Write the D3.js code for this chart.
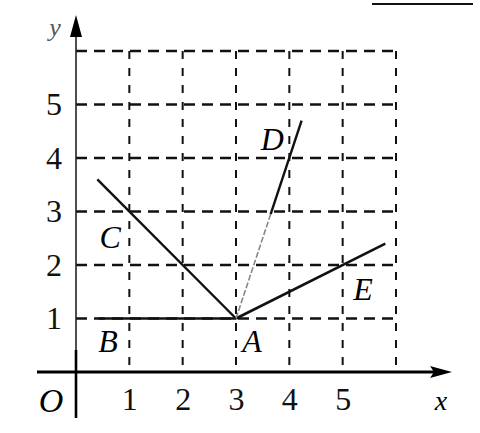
<!DOCTYPE html>
<html>
<head>
<meta charset="utf-8">
<script src="https://cdn.jsdelivr.net/npm/d3@7"></script>
<style>
  body { margin: 0; background: #fff; }
  svg { display: block; }
</style>
</head>
<body>
<svg id="chart" width="480" height="433"></svg>
<script>

// ===========================//
// DATA
// ===========================//

var xTicks = [1, 2, 3, 4, 5]
var yTicks = [1, 2, 3, 4, 5]
var gridX = [1, 2, 3, 4, 5, 6]
var gridY = [1, 2, 3, 4, 5, 6]

// segments leaving A
var lineAB = [[0.42, 1], [3, 1]]
var lineAC = [[0.4, 3.6], [3, 1]]
var lineAD = [[3, 1], [3.65, 2.95], [4.23, 4.7]]
var lineAE = [[3, 1], [5.8, 2.4]]

// point names
var pointNames = ["A", "B", "C", "D", "E"]
var pointLabelPos = [[3.3, 0.37], [0.6, 0.37], [0.64, 2.32], [3.68, 4.15], [5.38, 1.35]]


// ===========================//
// SCALES
// ===========================//

var svg = d3.select("#chart")
var serif = "'Liberation Serif', 'DejaVu Serif', serif"

var x = d3.scaleLinear().domain([0, 6]).range([76, 396])
var y = d3.scaleLinear().domain([0, 6]).range([372, 51])

var line = d3.line()
  .x(function(d){ return x(d[0]) })
  .y(function(d){ return y(d[1]) })


// ===========================//
// GRID
// ===========================//

svg.append("g").selectAll("line")
  .data(gridY)
  .enter()
  .append("line")
    .attr("x1", x(0))
    .attr("x2", x(6))
    .attr("y1", function(d){ return y(d) })
    .attr("y2", function(d){ return y(d) })
    .attr("stroke", "#111")
    .attr("stroke-width", 2.6)
    .attr("stroke-dasharray", "11,7")

svg.append("g").selectAll("line")
  .data(gridX)
  .enter()
  .append("line")
    .attr("x1", function(d){ return x(d) })
    .attr("x2", function(d){ return x(d) })
    .attr("y1", y(6))
    .attr("y2", y(0))
    .attr("stroke", "#111")
    .attr("stroke-width", 2)
    .attr("stroke-dasharray", "8,9")


// ===========================//
// AXES
// ===========================//

// y axis
svg.append("line")
  .attr("x1", x(0)).attr("x2", x(0))
  .attr("y1", 418).attr("y2", 30)
  .attr("stroke", "#222").attr("stroke-width", 1.6)
svg.append("line")
  .attr("x1", x(0)).attr("x2", x(0))
  .attr("y1", 418).attr("y2", 350)
  .attr("stroke", "#000").attr("stroke-width", 2.6)
svg.append("path")
  .attr("d", "M" + x(0) + ",15 L" + (x(0) - 6) + ",37 L" + (x(0) + 6) + ",37 Z")
  .attr("fill", "#000")

// x axis
svg.append("line")
  .attr("x1", 37).attr("x2", 440)
  .attr("y1", y(0)).attr("y2", y(0))
  .attr("stroke", "#000").attr("stroke-width", 3)
svg.append("path")
  .attr("d", "M452," + y(0) + " L430," + (y(0) - 6) + " L434," + y(0) + " L430," + (y(0) + 6) + " Z")
  .attr("fill", "#000")

// tick labels
var xAxis = svg.append("g")
  .attr("transform", "translate(0," + y(0) + ")")
  .call(d3.axisBottom(x).tickValues(xTicks).tickFormat(d3.format("d")).tickSize(0).tickPadding(15))
xAxis.select(".domain").remove()
xAxis.selectAll("text")
  .style("font-family", serif).style("font-size", "32px").attr("fill", "#111")

var yAxis = svg.append("g")
  .attr("transform", "translate(" + x(0) + ",0)")
  .call(d3.axisLeft(y).tickValues(yTicks).tickFormat(d3.format("d")).tickSize(0).tickPadding(14))
yAxis.select(".domain").remove()
yAxis.selectAll("text")
  .style("font-family", serif).style("font-size", "32px").attr("fill", "#111")

// O, x, y
svg.append("text")
  .attr("x", 51).attr("y", 412)
  .attr("text-anchor", "middle")
  .style("font-family", serif).style("font-style", "italic").style("font-size", "34px")
  .text("O")
svg.append("text")
  .attr("x", 441).attr("y", 410)
  .attr("text-anchor", "middle")
  .style("font-family", serif).style("font-style", "italic").style("font-size", "28px")
  .text("x")
svg.append("text")
  .attr("x", 55).attr("y", 36)
  .attr("text-anchor", "middle")
  .attr("fill", "#555")
  .style("font-family", serif).style("font-style", "italic").style("font-size", "26px")
  .text("y")


// ===========================//
// SEGMENTS
// ===========================//

svg.append("path").datum(lineAB)
  .attr("d", line).attr("fill", "none")
  .attr("stroke", "#111").attr("stroke-width", 2.4)

svg.append("path").datum(lineAC)
  .attr("d", line).attr("fill", "none")
  .attr("stroke", "#111").attr("stroke-width", 2.4)

svg.append("path").datum(lineAE)
  .attr("d", line).attr("fill", "none")
  .attr("stroke", "#111").attr("stroke-width", 2.6)

// AD: the lower piece is faint in the picture
svg.append("path").datum(lineAD.slice(0, 2))
  .attr("d", line).attr("fill", "none")
  .attr("stroke", "#888").attr("stroke-width", 1.6)
  .attr("stroke-dasharray", "6,2")
svg.append("path").datum(lineAD.slice(1))
  .attr("d", line).attr("fill", "none")
  .attr("stroke", "#111").attr("stroke-width", 2.4)


// ===========================//
// POINT NAMES
// ===========================//

svg.append("g").selectAll("text")
  .data(pointNames)
  .enter()
  .append("text")
    .attr("x", function(d, i){ return x(pointLabelPos[i][0]) })
    .attr("y", function(d, i){ return y(pointLabelPos[i][1]) })
    .attr("text-anchor", "middle")
    .style("font-family", serif)
    .style("font-style", "italic")
    .style("font-size", "32px")
    .text(function(d){ return d })

// stray rule at the top right of the scan
svg.append("line")
  .attr("x1", 372).attr("x2", 473)
  .attr("y1", 4).attr("y2", 4)
  .attr("stroke", "#111").attr("stroke-width", 2)

</script>
</body>
</html>
